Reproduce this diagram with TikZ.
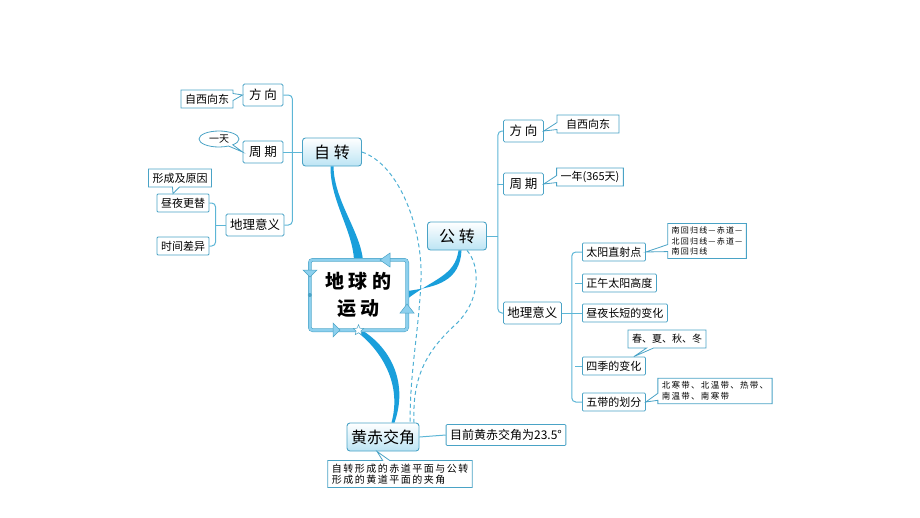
\documentclass[tikz,border=0pt]{standalone}
\usepackage{fontspec}
\setmainfont{Noto Sans CJK SC}
\newfontfamily\spacedfont[LetterSpace=15]{Noto Sans CJK SC}
\usepackage{tikz}
\usetikzlibrary{calc}
\usetikzlibrary{shapes.callouts,shapes.geometric}

\definecolor{edgec}{HTML}{4AA3C6}
\definecolor{branchc}{HTML}{5DB6D6}
\definecolor{mainfill}{HTML}{BCE4F4}
\definecolor{framec}{HTML}{8DD0EE}
\definecolor{trunkc}{HTML}{1A9FDB}
\definecolor{dashc}{HTML}{4FB0D4}

\tikzset{
  mainnode/.style={draw=edgec, line width=0.9pt, rounded corners=3pt, top color=white, bottom color=mainfill,
    font=\fontsize{16}{18}\selectfont, minimum width=59pt, minimum height=28pt, inner xsep=4pt},
  subnode/.style={draw=edgec, fill=white, line width=0.8pt, rounded corners=1.5pt,
    font=\fontsize{12.5}{14}\selectfont, minimum width=40pt, minimum height=22pt, inner xsep=4pt},
  leafnode/.style={draw=edgec, fill=white, line width=0.8pt, rounded corners=1pt,
    font=\fontsize{11}{12}\selectfont, minimum height=18pt, inner xsep=4pt},
  note/.style={rectangle callout, draw=edgec, fill=white, line width=0.8pt, callout pointer width=7pt,
    font=\fontsize{11}{12}\selectfont, minimum height=18pt, inner xsep=4pt},
  branch/.style={draw=branchc, line width=1pt, rounded corners=4pt},
  link/.style={draw=dashc, line width=1pt, dash pattern=on 4pt off 3pt},
  trunk/.style={fill=trunkc},
}

\begin{document}
\begin{tikzpicture}[x=1pt, y=-1pt]
\useasboundingbox (0,0) rectangle (920,517);

% centre
\node[minimum width=97pt, minimum height=70pt, align=center, inner sep=0pt,
      font=\fontsize{19}{27}\selectfont\bfseries] (earth) at (358.5,295) {地 球 的\\运 动};

% left: rotation
\node[mainnode] (zizhuan) at (332,152) {自 转};
\node[subnode] (lfx) at (263,95)  {方 向};
\node[subnode] (lzq) at (263,152) {周 期};
\node[subnode] (ldl) at (255,225) {地理意义};
\node[leafnode] (lzy) at (183,203) {昼夜更替};
\node[leafnode] (lsj) at (183,246) {时间差异};
\node[note, callout absolute pointer={(lfx.west)}] (lfxn) at (207,99) {自西向东};
\node[ellipse callout, draw=edgec, fill=white, line width=0.8pt, font=\fontsize{10}{11}\selectfont,
      inner sep=1pt, minimum width=40pt, minimum height=16pt,
      callout absolute pointer={(lzq.west)}] (lyt) at (219,139) {一天};
\node[note, callout absolute pointer={([xshift=-10pt]lzy.north)}] (lcy) at (180,178) {形成及原因};

% right: revolution
\node[mainnode] (gongzhuan) at (457,236) {公 转};
\node[subnode, anchor=west] (rfx) at (503,131) {方 向};
\node[subnode, anchor=west] (rzq) at (503,184) {周 期};
\node[subnode, anchor=west] (rdl) at (503,313) {地理意义};
\node[note, minimum width=62pt, callout absolute pointer={(rfx.east)}] (rfxn) at (588,124) {自西向东};
\node[note, callout absolute pointer={(rzq.east)}] (rzqn) at (590,177) {一年(365天)};
\node[leafnode, anchor=west] (rtz) at (582,252) {太阳直射点};
\node[leafnode, anchor=west] (rzw) at (582,283) {正午太阳高度};
\node[leafnode, anchor=west] (rzy) at (582,313) {昼夜长短的变化};
\node[leafnode, anchor=west] (rsj) at (582,366) {四季的变化};
\node[leafnode, anchor=west] (rwd) at (582,402) {五带的划分};
\node[note, align=left, font=\spacedfont\fontsize{8}{10.5}\selectfont,
      callout absolute pointer={(rtz.east)}] (rtzn) at (707,241) {南回归线—赤道—\\北回归线—赤道—\\南回归线};
\node[note, font=\fontsize{10}{11}\selectfont,
      callout absolute pointer={([xshift=20pt]rsj.north)}] (rsjn) at (667,339) {春、夏、秋、冬};
\node[note, align=left, font=\spacedfont\fontsize{8.5}{11}\selectfont,
      callout absolute pointer={(rwd.east)}] (rwdn) at (715,391) {北寒带、北温带、热带、\\南温带、南寒带};

% bottom: obliquity
\node[mainnode] (hcjj) at (383,437) {黄赤交角};
\node[leafnode, font=\fontsize{12}{14}\selectfont, minimum height=21pt] (hcv) at (506,435) {目前黄赤交角为23.5°};
\node[note, align=left, font=\spacedfont\fontsize{10}{11}\selectfont,
      callout absolute pointer={([xshift=-6pt]hcjj.south)}] (hcn) at (400,474) {自转形成的赤道平面与公转\\形成的黄道平面的夹角};

% branches
\draw[branch] (lfx.east) -| ($(lzq.east)+(9,0)$) |- (ldl.east);
\draw[branch] (lzq.east) -- (zizhuan.west);
\draw[branch] (lzy.east) -| ($(ldl.west)+(-10,0)$) |- (lsj.east);
\draw[branch] (ldl.west) -- ++(-10,0);
\draw[branch] (rfx.west) -| ($(gongzhuan.east)+(11,0)$) |- (rdl.west);
\draw[branch] (gongzhuan.east) -- ++(11,0);
\draw[branch] (rzq.west) -- ++(-6,0);
\draw[branch] (rtz.west) -| ($(rdl.east)+(10,0)$) |- (rwd.west);
\draw[branch] (rdl.east) -- (rzy.west);
\draw[branch] (rzw.west) -- ++(-7,0);
\draw[branch] (rsj.west) -- ++(-7,0);
\draw[branch] (hcjj.east) -- (hcv.west);

% thick trunks
\fill[trunk] ([xshift=-4.5pt]earth.north) .. controls (352.5,230) and (330,200) .. ([xshift=-1.5pt]zizhuan.south)
  -- ([xshift=1.5pt]zizhuan.south) .. controls (334,200) and (359.5,230) .. ([xshift=4.5pt]earth.north) -- cycle;
\fill[trunk] ([yshift=-4pt]earth.east) .. controls (433,279) and (455,276) .. ([xshift=1.5pt]gongzhuan.south)
  -- ([xshift=4.5pt]gongzhuan.south) .. controls (460,281) and (437,287) .. ([yshift=4pt]earth.east) -- cycle;
\fill[trunk] ([xshift=-3.5pt]earth.south) .. controls (384,352) and (401.5,386) .. ([xshift=8.5pt]hcjj.north)
  -- ([xshift=11.5pt]hcjj.north) .. controls (408,384) and (392,349) .. ([xshift=3.5pt]earth.south) -- cycle;

% dashed links
\draw[link] (zizhuan.east) .. controls (400,165) and (423,230) .. (421,280)
  .. controls (419,330) and (410,370) .. ([xshift=27pt]hcjj.north);
\draw[link] ([xshift=10pt]gongzhuan.south) .. controls (480,265) and (482,300) .. (455,325)
  .. controls (428,350) and (412,375) .. ([xshift=31pt]hcjj.north);

% frame of the centre node
\draw[draw=edgec, double=framec, double distance=2.6pt, line width=0.5pt, rounded corners=3pt]
  (earth.north west) rectangle (earth.south east);
\filldraw[fill=framec, draw=edgec, line width=0.5pt] (380,260) -- (390,253) -- (390,267) -- cycle;
\filldraw[fill=framec, draw=edgec, line width=0.5pt] (407,304) -- (400,313) -- (414,313) -- cycle;
\filldraw[fill=framec, draw=edgec, line width=0.5pt] (340,330) -- (333,323) -- (333,337) -- cycle;
\filldraw[fill=framec, draw=edgec, line width=0.5pt] (310,277) -- (303,270) -- (317,270) -- cycle;
\node[star, star points=5, star point ratio=2.2, draw=edgec, fill=white, line width=0.5pt,
      inner sep=0pt, minimum size=11pt] (spark) at (earth.south) {};
\fill[edgec] (earth.west) circle (2pt);
\end{tikzpicture}
\end{document}
